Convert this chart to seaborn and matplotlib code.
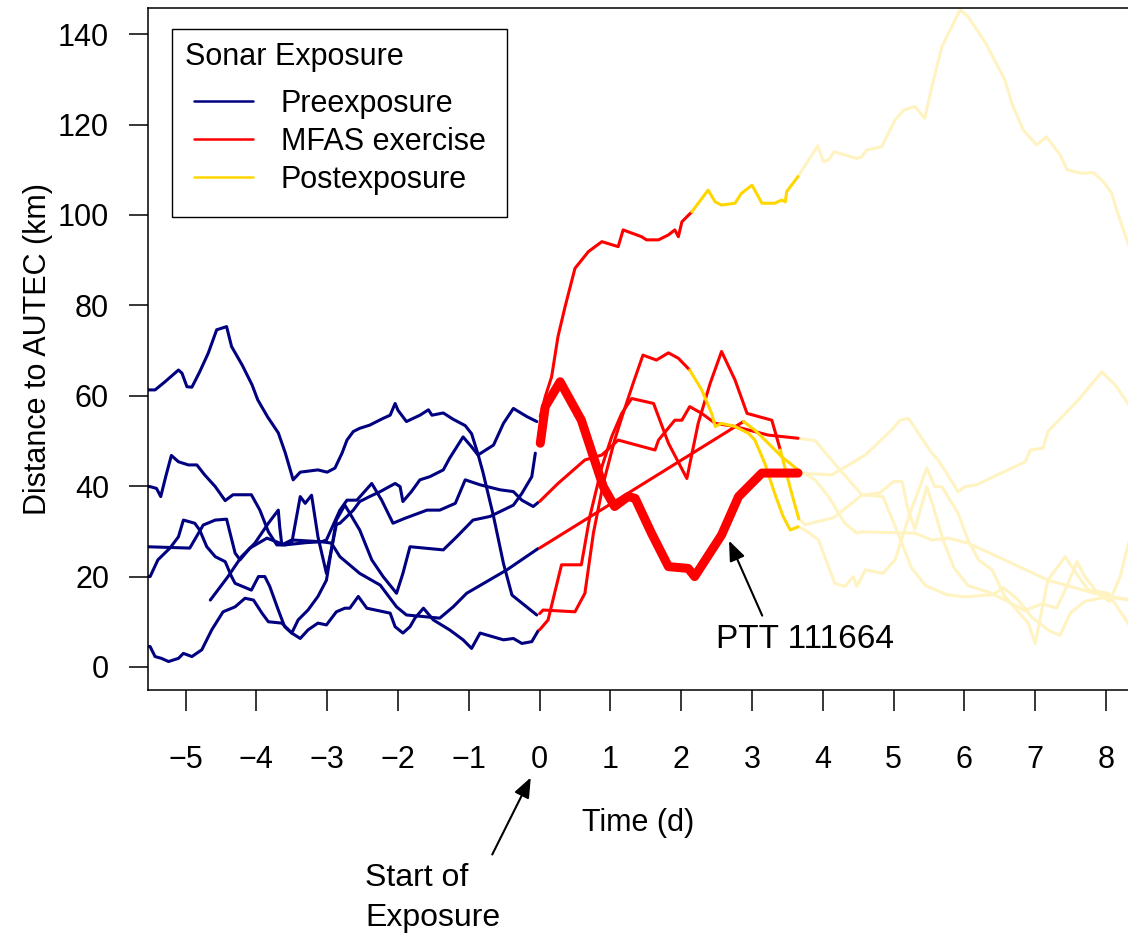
import pandas as pd
import seaborn as sns
import matplotlib.pyplot as plt
from matplotlib.lines import Line2D

# one pair of lists per tagged whale: time from start of exposure (d), distance to AUTEC (km)
t_a = [-5.55, -5.43, -5.29, -5.10, -5.05, -4.98, -4.91, -4.80, -4.68, -4.56, -4.42, -4.35, -4.20, -4.06,
       -3.98, -3.84, -3.69, -3.59, -3.48, -3.38, -3.13, -3.00, -2.89, -2.79, -2.72, -2.63, -2.54, -2.40,
       -2.21, -2.11, -2.04, -2.00, -1.88, -1.69, -1.57, -1.52, -1.36, -1.22, -1.05, -0.96, -0.87, -0.80,
       -0.65, -0.51, -0.39, -0.04,
       0.00, 0.05, 0.50, 0.64, 0.76, 0.90, 1.06, 1.18, 1.32, 1.46, 1.65, 1.82, 1.96, 2.12,
       2.29, 2.43, 2.48, 2.57, 2.76, 2.95, 3.04, 3.18, 3.32, 3.44, 3.54, 3.65,
       3.75, 3.94, 4.08, 4.17, 4.31, 4.43, 4.48, 4.60, 4.85, 5.02, 5.23, 5.47, 5.58, 5.68, 5.91, 6.05,
       6.20, 6.39, 6.57, 6.90, 7.00, 7.14, 7.18, 7.42, 7.61, 7.75, 8.03, 8.31, 8.45]
d_a = [61.3, 61.3, 63.1, 65.7, 65.0, 62.0, 61.9, 65.3, 69.4, 74.6, 75.3, 70.9, 66.8, 62.4,
       59.1, 55.3, 51.8, 47.3, 41.4, 43.1, 43.6, 43.1, 44.0, 47.3, 50.2, 52.1, 52.8, 53.5,
       55.0, 55.7, 58.3, 56.8, 54.3, 55.7, 56.9, 55.7, 56.2, 54.8, 53.4, 51.6, 47.1, 43.1,
       33.3, 22.9, 15.9, 11.5,
       11.8, 12.6, 12.2, 16.3, 29.6, 40.6, 50.2, 56.1, 62.7, 69.0, 67.9, 69.5, 68.3, 65.7,
       61.3, 56.1, 53.2, 53.9, 53.2, 51.7, 50.2, 45.1, 38.4, 33.3, 30.3, 31.0,
       30.3, 28.1, 22.2, 18.5, 17.8, 20.0, 17.8, 21.5, 20.7, 23.7, 34.0, 44.0, 39.9, 39.9, 34.0, 28.1,
       23.7, 21.5, 15.6, 9.7, 5.2, 16.3, 19.2, 24.4, 20.0, 17.0, 16.3, 9.7, 6.0]

t_b = [-5.55, -4.94, -4.75, -4.58, -4.42, -4.30, -4.23, -4.09, -3.85, -3.60, -3.50, -3.38, -3.31, -3.22,
       -3.13, -3.01, -2.94, -2.87, -2.82, -2.72, -2.63, -2.54, -2.40, -2.25, -2.04, -1.97, -1.93, -1.81,
       -1.69, -1.55, -1.36, -1.27, -1.08, -0.96, -0.87, -0.65, -0.51, -0.37, -0.18, -0.04,
       0.01, 0.08, 0.17, 0.26, 0.36, 0.50, 0.69, 0.88, 1.11, 1.18, 1.44, 1.51, 1.68, 1.82, 1.91, 1.96,
       2.01, 2.15,
       2.38, 2.48, 2.57, 2.76, 2.85, 3.00, 3.14, 3.32, 3.42, 3.47, 3.49, 3.65,
       3.80, 3.93, 4.01, 4.08, 4.16, 4.48, 4.55, 4.62, 4.83, 5.02, 5.14, 5.30, 5.44, 5.54, 5.68, 5.94,
       6.05, 6.29, 6.46, 6.57, 6.67, 6.83, 7.02, 7.16, 7.35, 7.45, 7.56, 7.66, 7.82, 7.96, 8.08, 8.15,
       8.31, 8.45]
d_b = [26.6, 26.3, 31.4, 32.5, 32.7, 25.2, 23.7, 26.3, 28.5, 27.0, 27.4, 37.7, 36.2, 38.0,
       28.8, 20.7, 26.0, 31.5, 31.8, 33.3, 34.7, 36.6, 37.7, 38.8, 40.6, 39.9, 36.6, 38.8,
       41.4, 42.1, 43.6, 46.2, 50.9, 48.7, 46.9, 49.1, 53.9, 57.2, 55.4, 54.3,
       55.4, 59.8, 64.2, 73.1, 79.7, 88.2, 91.9, 94.1, 93.0, 96.7, 95.2, 94.5, 94.5, 95.6, 96.7, 95.2,
       98.5, 100.7,
       105.5, 102.9, 102.2, 102.6, 104.8, 106.6, 102.6, 102.6, 103.3, 102.9, 105.2, 108.5,
       112.2, 115.3, 111.8, 112.2, 114.0, 112.5, 112.9, 114.4, 115.1, 121.0, 123.2, 124.0, 121.4, 128.4,
       137.2, 145.4, 143.9, 138.3, 133.2, 129.9, 124.7, 118.8, 115.5, 117.3, 113.3, 110.0, 109.6, 109.2,
       109.4, 107.4, 104.8, 101.1, 93.7, 88.0]

# PTT 111664
t_c = [-5.55, -5.50, -5.43, -5.34, -5.24, -5.10, -5.03, -4.91, -4.77, -4.63, -4.47, -4.30, -4.16, -4.04,
       -3.92, -3.83, -3.64, -3.50, -3.41, -3.27, -3.13, -3.01, -2.94, -2.87, -2.75, -2.68, -2.54, -2.37,
       -2.21, -2.02, -1.93, -1.83, -1.36, -1.17, -0.94, -0.70, -0.37, -0.25, -0.11, -0.06,
       0.01, 0.08, 0.29, 0.59, 0.76, 0.90, 1.06, 1.25, 1.35, 1.58, 1.82, 2.10, 2.19, 2.57, 2.81, 3.14, 3.65,
       4.13, 4.60, 4.97, 5.09, 5.21, 5.54, 5.63, 5.91, 6.01, 6.17, 6.86, 6.93, 7.11, 7.18, 7.61, 7.94,
       8.13, 8.31, 8.45]
d_c = [4.6, 4.5, 2.3, 1.9, 1.2, 1.9, 3.0, 2.3, 3.8, 8.2, 12.2, 13.3, 15.2, 14.8,
       11.9, 10.0, 9.7, 7.5, 10.4, 12.6, 15.6, 19.2, 25.9, 32.5, 35.8, 34.0, 30.3, 23.7,
       20.0, 16.3, 20.7, 26.6, 25.9, 28.8, 32.5, 33.3, 35.8, 38.4, 42.1, 47.3,
       49.5, 57.6, 63.1, 54.6, 46.5, 39.9, 35.5, 37.7, 37.3, 29.6, 22.2, 21.8, 20.0, 29.2, 37.7, 42.9, 42.9,
       42.5, 46.9, 52.4, 54.6, 55.0, 47.3, 45.8, 38.8, 39.9, 40.3, 45.4, 48.0, 48.4, 52.1, 59.1, 65.3,
       62.4, 58.3, 55.0]

t_d = [-4.65, -4.40, -4.21, -4.02, -3.83, -3.69, -3.67, -3.64, -3.50, -3.08, -3.01, -2.82, -2.72, -2.58,
       -2.37, -2.23, -2.07, -1.90, -1.59, -1.41, -1.19, -1.05, -0.84, -0.56, -0.37, -0.25, -0.09, -0.02,
       0.00, 0.26, 0.64, 0.88, 1.11, 1.63, 1.68, 1.91, 2.01, 2.12, 2.29, 2.48, 2.76, 3.23, 3.65,
       3.89, 4.22, 4.55, 4.85, 5.05, 5.25, 5.45, 5.75, 6.00, 6.40, 6.55, 6.75, 6.95, 7.20, 7.35, 7.50,
       7.70, 8.00, 8.31, 8.45]
d_d = [14.8, 20.0, 24.4, 27.4, 31.8, 34.7, 31.0, 27.0, 28.1, 27.7, 28.1, 34.7, 36.9, 36.9,
       40.6, 36.9, 31.8, 32.9, 34.7, 34.7, 36.2, 41.4, 40.3, 39.2, 38.8, 36.9, 35.5, 36.4,
       36.6, 40.6, 45.8, 46.9, 50.2, 48.0, 50.2, 54.6, 54.6, 57.6, 56.1, 53.9, 53.2, 51.3, 50.6,
       50.1, 44.0, 38.1, 37.7, 30.0, 22.0, 18.0, 16.0, 15.5, 16.0, 17.5, 15.0, 11.0, 8.0, 7.0, 12.0,
       14.5, 15.5, 15.0, 14.8]

t_e = [-5.55, -5.50, -5.41, -5.35, -5.28, -5.20, -5.10, -4.96, -4.84, -4.73, -4.58, -4.44, -4.33, -4.07,
       -3.95, -3.83, -3.71, -3.60, -3.30, -3.08, -2.94, -2.82, -2.54, -2.25, -2.02, -1.88, -1.41, -1.22,
       -1.03, -0.46, -0.02,
       0.00, 2.88,
       3.04, 3.23, 3.42, 3.65,
       3.89, 4.08, 4.31, 4.48, 4.55, 5.30, 5.54, 5.77, 6.05, 6.62, 7.18, 7.84, 8.31, 8.45]
d_e = [39.9, 39.9, 39.5, 37.7, 42.1, 46.8, 45.4, 44.7, 44.7, 42.5, 39.9, 36.8, 38.1, 38.1,
       34.7, 29.9, 27.0, 27.0, 27.5, 27.7, 27.4, 24.4, 20.7, 18.1, 13.3, 11.5, 10.8, 13.3,
       16.3, 21.5, 26.2,
       26.3, 54.3,
       52.4, 49.5, 46.5, 43.6,
       41.4, 37.7, 31.8, 29.6, 29.9, 29.6, 28.1, 28.5, 27.4, 23.3, 19.2, 16.3, 14.8, 14.5]

t_f = [-5.55, -5.50, -5.39, -5.22, -5.10, -5.03, -4.87, -4.80, -4.70, -4.58, -4.44, -4.35, -4.30, -4.07,
       -3.97, -3.88, -3.81, -3.69, -3.60, -3.50, -3.38, -3.27, -3.13, -3.01, -2.87, -2.75, -2.68, -2.56,
       -2.44, -2.11, -2.04, -1.93, -1.83, -1.76, -1.64, -1.50, -1.27, -1.08, -0.96, -0.84, -0.51, -0.37,
       -0.25, -0.11, -0.02,
       0.00, 0.12, 0.31, 0.59, 0.71, 0.88, 1.02, 1.16, 1.30, 1.61, 1.82, 2.08, 2.24, 2.41, 2.57, 2.76,
       2.93, 3.28, 3.40,
       3.55, 3.66,
       3.75, 4.15, 4.55, 4.80, 5.00, 5.12, 5.20, 5.30, 5.47, 5.55, 5.70, 5.85, 6.05, 6.35, 6.55, 6.85,
       7.10, 7.30, 7.45, 7.59, 7.70, 7.90, 8.05, 8.20, 8.31, 8.45]
d_f = [20.0, 20.0, 23.7, 26.3, 28.8, 32.5, 31.8, 30.3, 26.6, 24.4, 23.3, 20.0, 18.5, 17.0,
       20.0, 20.0, 17.8, 12.6, 8.9, 7.5, 6.3, 8.2, 9.7, 9.3, 12.2, 13.0, 13.0, 15.6,
       13.0, 11.9, 8.9, 7.5, 8.9, 10.8, 13.0, 10.4, 8.2, 6.0, 4.1, 7.5, 6.0, 6.3,
       5.2, 5.6, 8.0,
       8.2, 10.4, 22.6, 22.6, 33.3, 44.3, 51.0, 56.1, 59.4, 58.3, 49.5, 41.7, 53.9, 62.8, 69.8, 63.5,
       56.1, 54.6, 48.0,
       39.0, 32.8,
       31.5, 33.0, 38.0, 38.5, 41.0, 41.0, 35.0, 30.5, 39.9, 36.0, 28.0, 22.0, 18.0, 16.5, 15.0, 12.5,
       14.0, 13.0, 18.0, 23.3, 20.0, 16.0, 14.5, 20.0, 27.0, 33.0]

tracks = {"a": (t_a, d_a), "b": (t_b, d_b), "c": (t_c, d_c),
          "d": (t_d, d_d), "e": (t_e, d_e), "f": (t_f, d_f)}
exercise_end = {"a": 2.12, "b": 2.15, "c": 3.65, "d": 3.65, "e": 2.88, "f": 3.40}
focal = "c"
focal_label = "PTT 111664"
fade_after = 3.67

phases = ["Preexposure", "MFAS exercise", "Postexposure"]
colors = {"Preexposure": "#000080", "MFAS exercise": "#ff0000",
          "Postexposure": "#ffd700", "later": "#fff3c2"}

# split every track into coloured runs, joining runs except at the start of exposure
rows = []
seg = 0
for name, (t, d) in tracks.items():
    lab = []
    for x in t:
        if x < 0:
            lab.append("Preexposure")
        elif x <= exercise_end[name]:
            lab.append("MFAS exercise")
        elif x <= fade_after:
            lab.append("Postexposure")
        else:
            lab.append("later")
    i = 0
    while i < len(t):
        j = i
        while j + 1 < len(t) and lab[j + 1] == lab[i]:
            j += 1
        k = i - 1 if i > 0 and lab[i - 1] != "Preexposure" else i
        for m in range(k, j + 1):
            rows.append((name, seg, lab[i], t[m], d[m]))
        seg += 1
        i = j + 1
df = pd.DataFrame(rows, columns=["track", "seg", "phase", "time", "dist"])

sns.set_theme(style="ticks")
plt.rcParams["font.family"] = ["Liberation Sans", "DejaVu Sans"]
plt.rcParams["text.color"] = "black"
plt.rcParams["axes.labelcolor"] = "black"

fig = plt.figure(figsize=(11.28, 9.34), dpi=100)
ax = fig.add_axes([148 / 1128, 244 / 934, 980 / 1128, 682 / 934])

is_thick = (df.track == focal) & (df.phase == "MFAS exercise")
for ph in ["later", "Preexposure", "MFAS exercise", "Postexposure"]:
    sub = df[(df.phase == ph) & ~is_thick]
    sns.lineplot(data=sub, x="time", y="dist", units="seg", estimator=None, sort=False,
                 color=colors[ph], linewidth=2.2, legend=False, ax=ax)
sns.lineplot(data=df[is_thick], x="time", y="dist", units="seg", estimator=None, sort=False,
             color=colors["MFAS exercise"], linewidth=6.5, legend=False, ax=ax)

ax.set_xlim(-5.53, 8.31)
ax.set_ylim(-5.1, 145.8)
ax.set_xticks(range(-5, 9))
ax.set_yticks(range(0, 141, 20))
ax.tick_params(axis="x", length=15, width=1.1, pad=24.5, labelsize=22, colors="black")
ax.tick_params(axis="y", length=14, width=1.1, pad=14, labelsize=22, colors="black")
ax.set_xlabel("Time (d)", fontsize=22, labelpad=23.5, color="black")
ax.set_ylabel("Distance to AUTEC (km)", fontsize=22, labelpad=3.5, color="black")
for s in ["left", "bottom", "top"]:
    ax.spines[s].set_linewidth(1.1)
    ax.spines[s].set_color("black")
ax.spines["right"].set_visible(False)

handles = [Line2D([], [], color=colors[p], lw=1.8) for p in phases]
leg = ax.legend(handles, phases, title="Sonar Exposure", loc="upper left",
                bbox_to_anchor=(0.0245, 0.9692), borderaxespad=0, fontsize=22, title_fontsize=22,
                fancybox=False, edgecolor="black", framealpha=1, alignment="left",
                handlelength=1.92, handletextpad=0.92, labelspacing=0.26, borderpad=0.42)
leg.get_frame().set_linewidth(1.0)
leg._legend_handle_box.pad = 6.5
for txt in leg.get_texts() + [leg.get_title()]:
    txt.set_color("black")

head = "-|>,head_length=0.55,head_width=0.22"
ax.annotate("", xy=(2.66, 28.5), xytext=(3.16, 10.8),
            arrowprops=dict(arrowstyle=head, color="black", lw=1.5, mutation_scale=22))
ax.text(3.75, 6.0, focal_label, fontsize=24, ha="center", va="center", color="black")

ax.annotate("", xy=(532, 159), xycoords="figure pixels", xytext=(491, 77),
            textcoords="figure pixels",
            arrowprops=dict(arrowstyle=head, color="black", lw=1.5, mutation_scale=22))
fig.text(365 / 1128, 36 / 934, "Start of\nExposure", fontsize=23, ha="left", va="center",
         linespacing=1.4, color="black")

fig.savefig("out.png", dpi=100)
